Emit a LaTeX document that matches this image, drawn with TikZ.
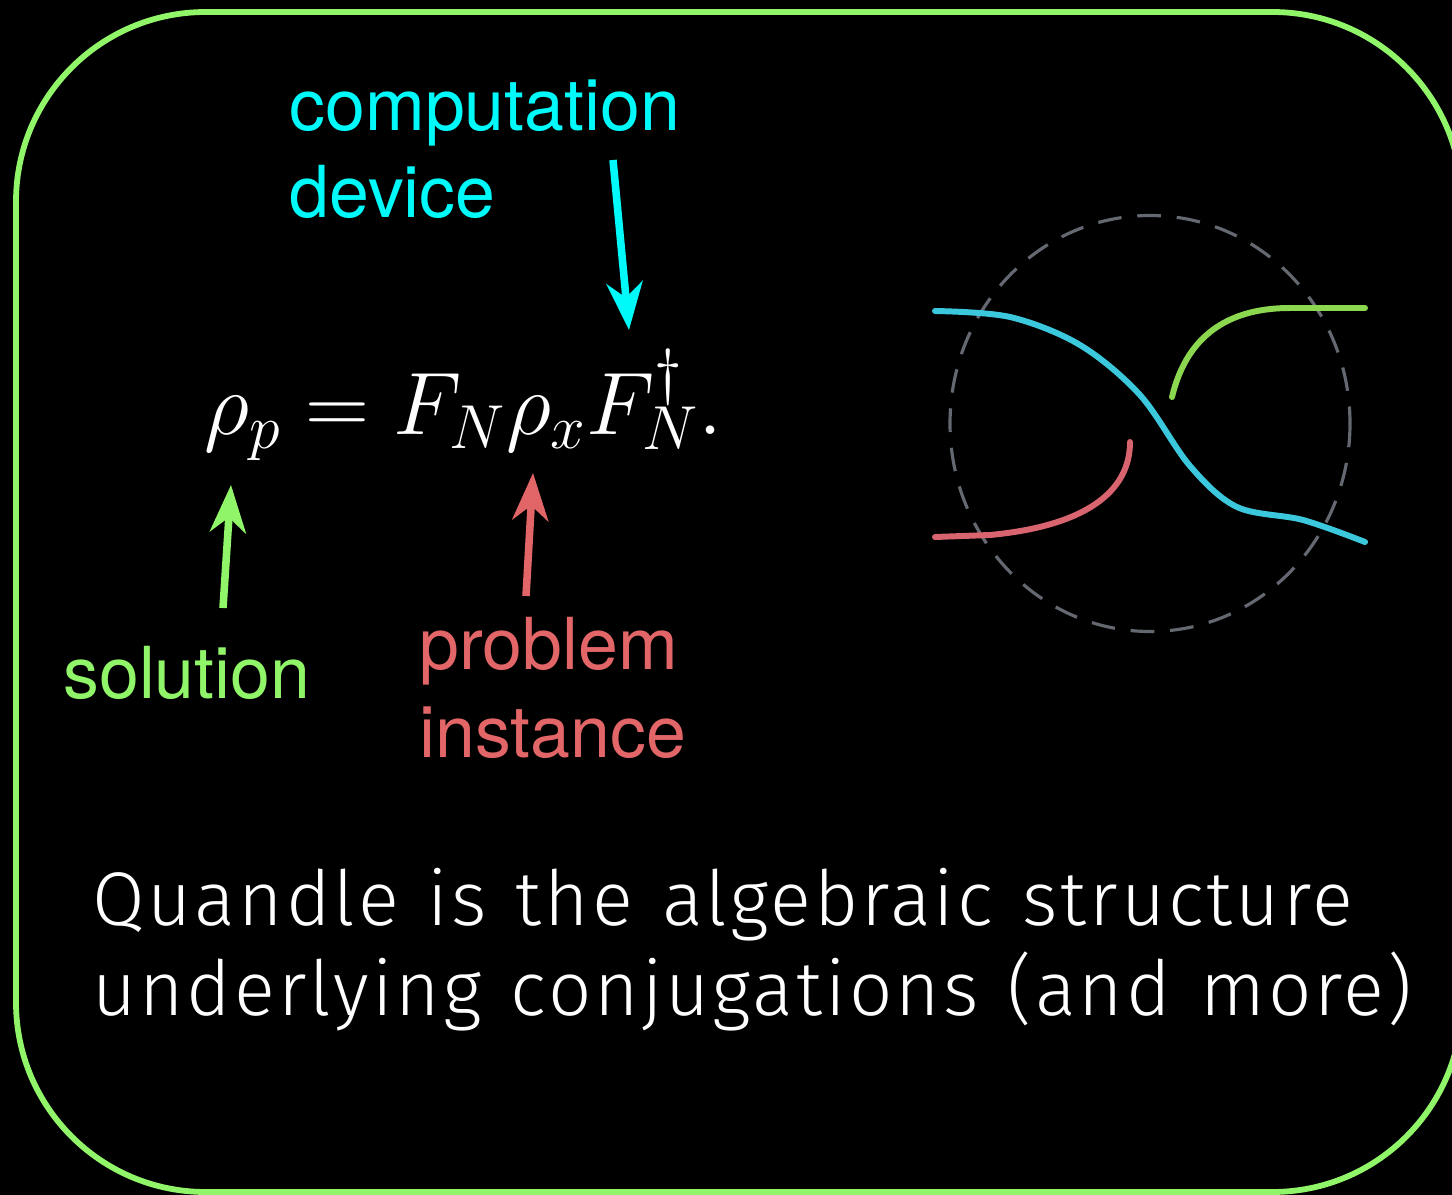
\RequirePackage{fix-cm}
\documentclass[tikz,border=0pt]{standalone}
\usepackage{fontspec}
\usetikzlibrary{arrows.meta}
\newfontfamily\heros{TeX Gyre Heros}
\newfontfamily\firalight{Fira Sans Light}[LetterSpace=4, WordSpace=1.2]
\definecolor{framegreen}{RGB}{145,245,105}
\definecolor{labcyan}{RGB}{0,250,250}
\definecolor{labgreen}{RGB}{145,245,105}
\definecolor{labred}{RGB}{226,102,104}
\definecolor{strcyan}{RGB}{60,200,220}
\definecolor{strgreen}{RGB}{140,215,80}
\definecolor{strred}{RGB}{215,100,110}
\definecolor{dashgray}{RGB}{100,104,112}
\tikzset{
  pointer/.style={line width=4.3pt, -{Stealth[length=27pt,width=20.5pt,inset=8.5pt]}},
  labeltext/.style={inner sep=0pt, anchor=base west, align=left, font=\heros\fontsize{40.8}{50}\selectfont},
  strand/.style={line width=3.4pt, line cap=round},
}
\begin{document}
\begin{tikzpicture}[x=0.02cm, y=-0.02cm]
\fill[black] (0,0) rectangle (1452,1195);
\useasboundingbox (0,0) rectangle (1452,1195);
\clip (0,0) rectangle (1452,1195);
% frame
\draw[framegreen, line width=3.3pt, rounded corners=108pt] (16,12) rectangle (1462,1192);
% labels (base anchor = last line's baseline)
\node[labeltext, text=labcyan] (dev) at (289,218) {computation\\device};
\node[labeltext, text=labgreen] (sol) at (63,698) {solution};
\node[labeltext, text=labred] (prob) at (419,757) {problem\\instance};
% formula
\node[inner sep=0pt, anchor=base west, text=white, font=\fontsize{50.5}{60}\selectfont] (eq) at (204,435) {$\rho_p = F_N \rho_x F_N^\dagger.$};
% arrows
\coordinate (devTail) at (613,160);
\coordinate (devTip) at (629,330);
\coordinate (solTail) at (223,608);
\coordinate (solTip) at (231,485);
\coordinate (probTail) at (526,596);
\coordinate (probTip) at (533,473);
\draw[pointer, labcyan] (devTail) -- (devTip);
\draw[pointer, labgreen] (solTail) -- (solTip);
\draw[pointer, labred] (probTail) -- (probTip);
% knot diagram
\draw[dashgray, line width=1.8pt, dash pattern=on 13.5pt off 9pt] (1150,423.5) ellipse [x radius=200, y radius=208];
\draw[strand, strcyan] plot[smooth, tension=0.55] coordinates {(935,311) (1010,317) (1080,345) (1140,395) (1190,466) (1237,507) (1303,520) (1365,542)};
\draw[strand, strgreen] (1172,397) .. controls (1188,330) and (1235,308) .. (1290,308) -- (1365,308);
\draw[strand, strred] (935,537) -- (990,535) .. controls (1085,526) and (1130,492) .. (1130,442);
% bottom text
\node[inner sep=0pt, anchor=base west, align=left, text=white, font=\firalight\fontsize{43.3}{51}\selectfont] (caption) at (92,1015) {Quandle is the algebraic structure\\underlying conjugations (and more)};
\end{tikzpicture}
\end{document}
